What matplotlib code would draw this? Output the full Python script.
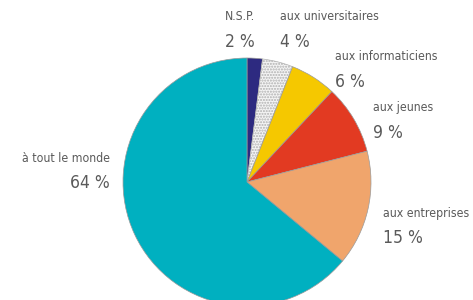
import matplotlib
matplotlib.use("Agg")
import matplotlib.pyplot as plt

labels = ["N.S.P.", "aux universitaires", "aux informaticiens", "aux jeunes", "aux entreprises", "à tout le monde"]
values = [2, 4, 6, 9, 15, 64]
colors = ["#2d2a80", "#f4f4f4", "#f5c800", "#e23a22", "#f0a56c", "#00b0c0"]

W, H = 473, 300
fig = plt.figure(figsize=(W / 100, H / 100), dpi=100)
ax = fig.add_axes([0, 0, 1, 1])

cx, cy, r = 247, H - 182, 124
wedges, _ = ax.pie(values, colors=colors, startangle=90, counterclock=False,
                   center=(cx, cy), radius=r, frame=True,
                   wedgeprops=dict(edgecolor="#9a9a9a", linewidth=0.5))
wedges[1].set_hatch("......")
wedges[1].set_edgecolor("#b0b0b0")
ax.set_xlim(0, W)
ax.set_ylim(0, H)
ax.set_aspect("equal")
ax.axis("off")

fam = ["DejaVu Sans"]
tc = "#5a5a5a"
# (x, y_top_pixels, ha)
pos = [(240, 17, "center"), (280, 17, "left"), (335, 57, "left"),
       (373, 108, "left"), (383, 213, "left"), (110, 158, "right")]
for (x, y, ha), lab, v in zip(pos, labels, values):
    ax.text(x, H - y, lab, ha=ha, va="center", fontsize=8.8, color=tc,
            family=fam, stretch="condensed")
    ax.text(x, H - y - 25, f"{v} %", ha=ha, va="center", fontsize=12.5, color=tc,
            family=fam, stretch="condensed")

fig.savefig("out.png", dpi=100)
